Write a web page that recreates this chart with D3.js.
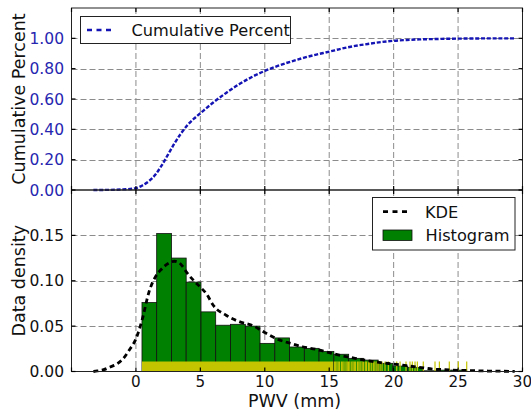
<!DOCTYPE html>
<html>
<head>
<meta charset="utf-8">
<script src="https://cdn.jsdelivr.net/npm/d3@7"></script>
<style>
  body { margin: 0; background: #fff; }
  text { font-family: "DejaVu Sans", sans-serif; }
</style>
</head>
<body>
<div id="chart"></div>
<script>
// values
var cdfX = [-3.3, -2, -1, 0, 0.5, 1, 1.5, 2, 2.5, 3, 3.5, 4, 4.5, 5, 6, 7, 8, 9, 10, 11, 12, 13, 14, 15, 16, 17, 18, 19, 20, 21, 22, 23, 24, 25, 26, 27, 28, 29.4];
var cdfY = [0, 0.001, 0.004, 0.012, 0.03, 0.058, 0.1, 0.162, 0.235, 0.308, 0.373, 0.428, 0.47, 0.506, 0.577, 0.64, 0.697, 0.745, 0.785, 0.818, 0.846, 0.871, 0.893, 0.912, 0.933, 0.95, 0.963, 0.975, 0.984, 0.989, 0.993, 0.995, 0.997, 0.998, 0.999, 0.9995, 1.0, 1.0];

var kdeX = [-3.3, -3, -2.5, -2, -1.5, -1, -0.5, 0, 0.5, 1, 1.5, 2, 2.5, 3, 3.5, 4, 4.5, 5, 5.5, 6, 7, 8, 9, 10, 11, 12, 13, 14, 15, 16, 17, 18, 19, 20, 21, 22, 23, 24, 25, 26, 27, 28, 29, 29.4];
var kdeY = [0, 0.0006, 0.002, 0.005, 0.008, 0.014, 0.024, 0.036, 0.058, 0.087, 0.104, 0.113, 0.119, 0.1215, 0.118, 0.108, 0.1, 0.093, 0.085, 0.073, 0.062, 0.055, 0.051, 0.043, 0.0355, 0.031, 0.027, 0.0244, 0.0207, 0.0174, 0.0145, 0.0119, 0.0097, 0.0082, 0.0064, 0.0046, 0.0027, 0.002, 0.0013, 0.001, 0.0006, 0.0004, 0.0002, 0.0001];

var histEdges = [0.47, 1.61, 2.76, 3.90, 5.05, 6.19, 7.34, 8.49, 9.63, 10.78, 11.92, 13.07, 14.21, 15.36, 16.51, 17.65, 18.80, 19.94, 21.09, 22.23, 23.38, 24.52, 25.67];
var histDensity = [0.076, 0.152, 0.125, 0.0985, 0.0657, 0.051, 0.052, 0.050, 0.031, 0.037, 0.027, 0.0255, 0.022, 0.019, 0.0145, 0.0126, 0.009, 0.006, 0.0046, 0.0008, 0.0015, 0.0015];

var rugBand = [0.47, 15.3];
var rugValues = [15.4, 15.5, 15.6, 15.7, 15.8, 15.95, 16.05, 16.15, 16.3, 16.4, 16.5, 16.6, 16.75, 16.85, 16.95, 17.05, 17.2, 17.3, 17.4, 17.55, 17.65, 17.8, 17.9, 18.05, 18.15, 18.3, 18.45, 18.55, 18.7, 18.8, 18.95, 19.1,
  19.33, 19.59, 20.24, 20.5, 20.96, 21.27, 21.45, 21.66, 21.84, 22.3, 23.21, 23.55, 24.32, 25.02, 25.67];

var xTicks = [-5, 0, 5, 10, 15, 20, 25, 30];
var xTickLabels = ["", "0", "5", "10", "15", "20", "25", "30"];
var cdfTicks = [0, 0.2, 0.4, 0.6, 0.8, 1.0];
var densTicks = [0, 0.05, 0.10, 0.15];

var W = 531, H = 412;
var left = 71.5, right = 522.5;
var topA = 8, botA = 190, topB = 190, botB = 371.5;

var svg = d3.select("#chart").append("svg")
  .attr("width", W).attr("height", H);

var x = d3.scaleLinear().domain([-5, 30]).range([left, right]);
var yC = d3.scaleLinear().domain([0, 1.2]).range([botA, topA]);
var yD = d3.scaleLinear().domain([0, 0.2]).range([botB, topB]);

var gridColor = "#8c8c8c";
var blue = "#2626b0";

function grid(yScale, ticks, y0, y1) {
  var g = svg.append("g");
  g.selectAll(".vg").data(xTicks.slice(1, -1)).enter().append("line")
    .attr("x1", d => x(d)).attr("x2", d => x(d))
    .attr("y1", y0).attr("y2", y1)
    .attr("stroke", gridColor).attr("stroke-width", 1).attr("stroke-dasharray", "6,3");
  g.selectAll(".hg").data(ticks.slice(1)).enter().append("line")
    .attr("x1", left).attr("x2", right)
    .attr("y1", d => Math.round(yScale(d)) + 0.5).attr("y2", d => Math.round(yScale(d)) + 0.5)
    .attr("stroke", gridColor).attr("stroke-width", 1).attr("stroke-dasharray", "6,3");
}
grid(yC, cdfTicks, topA, botA);
grid(yD, densTicks, topB, botB);

// ---- top panel: cumulative percent
var cdfLine = d3.line().x((d, i) => x(cdfX[i])).y(d => yC(d)).curve(d3.curveMonotoneX);
svg.append("path").datum(cdfY)
  .attr("d", cdfLine)
  .attr("fill", "none").attr("stroke", "#1414b4").attr("stroke-width", 2.4)
  .attr("stroke-dasharray", "4,1.8");

// ---- bottom panel: histogram
svg.append("g").selectAll("rect").data(histDensity).enter().append("rect")
  .attr("x", (d, i) => x(histEdges[i]))
  .attr("width", (d, i) => x(histEdges[i + 1]) - x(histEdges[i]))
  .attr("y", d => yD(d))
  .attr("height", d => botB - yD(d))
  .attr("fill", "#008000").attr("stroke", "#111").attr("stroke-width", 0.8);

// rug
var rugH = 10;
svg.append("rect")
  .attr("x", x(rugBand[0])).attr("width", x(rugBand[1]) - x(rugBand[0]))
  .attr("y", botB - rugH).attr("height", rugH)
  .attr("fill", "#c4c400");
svg.append("g").selectAll("line").data(rugValues).enter().append("line")
  .attr("x1", d => x(d)).attr("x2", d => x(d))
  .attr("y1", botB).attr("y2", botB - rugH)
  .attr("stroke", "#c4c400").attr("stroke-width", 1.2);

// KDE
var kdeLine = d3.line().x((d, i) => x(kdeX[i])).y(d => yD(d)).curve(d3.curveMonotoneX);
svg.append("path").datum(kdeY)
  .attr("d", kdeLine)
  .attr("fill", "none").attr("stroke", "#000").attr("stroke-width", 2.8)
  .attr("stroke-dasharray", "5,3.5");

// ---- frames and ticks
function frame(y0, y1) {
  svg.append("rect").attr("x", left).attr("y", y0).attr("width", right - left).attr("height", y1 - y0)
    .attr("fill", "none").attr("stroke", "#222").attr("stroke-width", 1);
}
frame(topA, botA);
frame(topB, botB);

function inTicks(yScale, ticks, y0, y1) {
  var g = svg.append("g").attr("stroke", "#000").attr("stroke-width", 1.2);
  xTicks.forEach(function (t) {
    g.append("line").attr("x1", x(t)).attr("x2", x(t)).attr("y1", y1).attr("y2", y1 - 4);
    g.append("line").attr("x1", x(t)).attr("x2", x(t)).attr("y1", y0).attr("y2", y0 + 4);
  });
  ticks.forEach(function (t) {
    g.append("line").attr("x1", left).attr("x2", left + 4).attr("y1", yScale(t)).attr("y2", yScale(t));
    g.append("line").attr("x1", right).attr("x2", right - 4).attr("y1", yScale(t)).attr("y2", yScale(t));
  });
}
inTicks(yC, cdfTicks, topA, botA);
inTicks(yD, densTicks, topB, botB);

var fmt = d3.format(".2f");
svg.append("g").selectAll("text").data(cdfTicks).enter().append("text")
  .attr("x", 64).attr("y", d => yC(d)).attr("dy", "0.36em")
  .attr("text-anchor", "end").attr("font-size", 15.5).attr("fill", blue)
  .text(d => fmt(d));
svg.append("g").selectAll("text").data(densTicks).enter().append("text")
  .attr("x", 64).attr("y", d => yD(d)).attr("dy", "0.36em")
  .attr("text-anchor", "end").attr("font-size", 15.5).attr("fill", "#111")
  .text(d => fmt(d));
svg.append("g").selectAll("text").data(xTicks).enter().append("text")
  .attr("x", d => x(d)).attr("y", 387)
  .attr("text-anchor", "middle").attr("font-size", 15.2).attr("fill", "#111")
  .text((d, i) => xTickLabels[i]);

// axis labels
svg.append("text").attr("transform", "translate(24.5," + (topA + botA) / 2 + ") rotate(-90)")
  .attr("text-anchor", "middle").attr("font-size", 17.5).attr("fill", "#111")
  .text("Cumulative Percent");
svg.append("text").attr("transform", "translate(24.5," + (topB + botB) / 2 + ") rotate(-90)")
  .attr("text-anchor", "middle").attr("font-size", 17.5).attr("fill", "#111")
  .text("Data density");
svg.append("text").attr("x", 294.5).attr("y", 406.5)
  .attr("text-anchor", "middle").attr("font-size", 17.5).attr("fill", "#111")
  .text("PWV (mm)");

// legends
var lg1 = svg.append("g");
lg1.append("rect").attr("x", 80.5).attr("y", 16.5).attr("width", 210).attr("height", 27)
  .attr("fill", "#fff").attr("stroke", "#222").attr("stroke-width", 1);
lg1.append("line").attr("x1", 87).attr("x2", 115).attr("y1", 30).attr("y2", 30)
  .attr("stroke", "#1414b4").attr("stroke-width", 2.4).attr("stroke-dasharray", "5,4.5");
lg1.append("text").attr("x", 131.5).attr("y", 30).attr("dy", "0.36em")
  .attr("font-size", 16.2).attr("fill", "#111").text("Cumulative Percent");

var lg2 = svg.append("g");
lg2.append("rect").attr("x", 372.5).attr("y", 197.5).attr("width", 142.5).attr("height", 52.5)
  .attr("fill", "#fff").attr("stroke", "#222").attr("stroke-width", 1);
lg2.append("line").attr("x1", 383).attr("x2", 407).attr("y1", 211.7).attr("y2", 211.7)
  .attr("stroke", "#000").attr("stroke-width", 2.8).attr("stroke-dasharray", "5,4.5");
lg2.append("text").attr("x", 425).attr("y", 211.7).attr("dy", "0.36em")
  .attr("font-size", 16.2).attr("fill", "#111").text("KDE");
lg2.append("rect").attr("x", 383).attr("y", 230).attr("width", 29).attr("height", 10.5)
  .attr("fill", "#008000").attr("stroke", "#111").attr("stroke-width", 0.8);
lg2.append("text").attr("x", 425.5).attr("y", 235).attr("dy", "0.36em")
  .attr("font-size", 16.2).attr("fill", "#111").text("Histogram");
</script>
</body>
</html>
